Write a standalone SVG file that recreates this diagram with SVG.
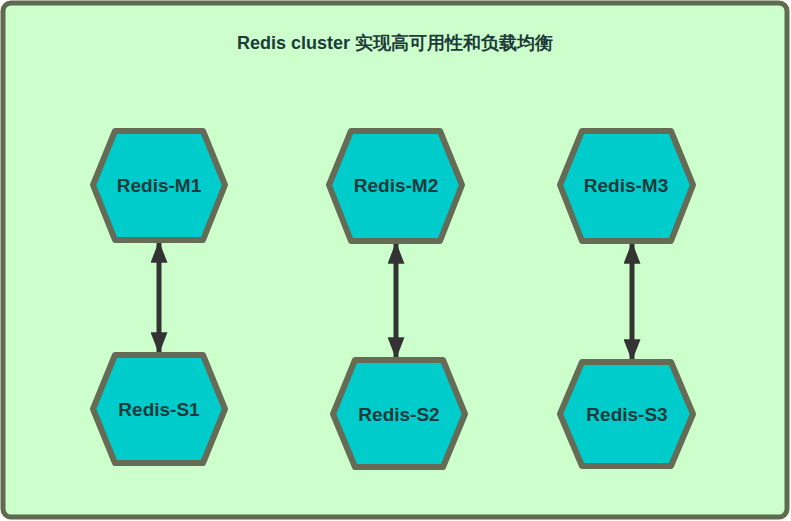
<svg xmlns="http://www.w3.org/2000/svg" width="791" height="521" viewBox="0 0 791 521">
<style>
.hex{fill:#00cccc;stroke:#666b55;stroke-width:6;stroke-linejoin:round}
.t{font-family:"Liberation Sans",Arial,sans-serif;font-weight:bold;font-size:19px;fill:#1e3b3b;text-anchor:middle}
.c{stroke:#333;stroke-width:5;fill:none}
</style>
<defs><marker id="a" viewBox="0 0 10 10" refX="9" refY="5" markerWidth="4.4" markerHeight="3.4" orient="auto-start-reverse" markerUnits="strokeWidth" preserveAspectRatio="none"><path d="M0,0L10,5L0,10z" fill="#333"/></marker></defs>
<rect x="3" y="3" width="784" height="514" rx="8" fill="#ccffcc" stroke="#5e6b4e" stroke-width="5"/>
<text x="395" y="49" class="t" style="font-size:18px">Redis cluster 实现高可用性和负载均衡</text>
<g id="connectors">
<line class="c" x1="159" y1="243" x2="159" y2="352" marker-start="url(#a)" marker-end="url(#a)"/>
<line class="c" x1="396" y1="244" x2="396" y2="357" marker-start="url(#a)" marker-end="url(#a)"/>
<line class="c" x1="632" y1="244" x2="632" y2="359" marker-start="url(#a)" marker-end="url(#a)"/>
</g>
<g id="m1"><polygon class="hex" points="93,185 115,131 203,131 225,185 203,240 115,240"/><text class="t" x="159" y="192">Redis-M1</text></g>
<g id="s1"><polygon class="hex" points="93,409 115,355 203,355 225,409 203,463 115,463"/><text class="t" x="159" y="416">Redis-S1</text></g>
<g id="m2"><polygon class="hex" points="329,185 351,131 440,131 462,185 440,241 351,241"/><text class="t" x="396" y="192">Redis-M2</text></g>
<g id="s2"><polygon class="hex" points="333,414 355,360 443,360 465,414 443,467 355,467"/><text class="t" x="399" y="421">Redis-S2</text></g>
<g id="m3"><polygon class="hex" points="560,185 582,131 671,131 693,185 671,241 582,241"/><text class="t" x="626" y="192">Redis-M3</text></g>
<g id="s3"><polygon class="hex" points="560,414 582,362 671,362 693,414 671,466 582,466"/><text class="t" x="627" y="421">Redis-S3</text></g>
</svg>
